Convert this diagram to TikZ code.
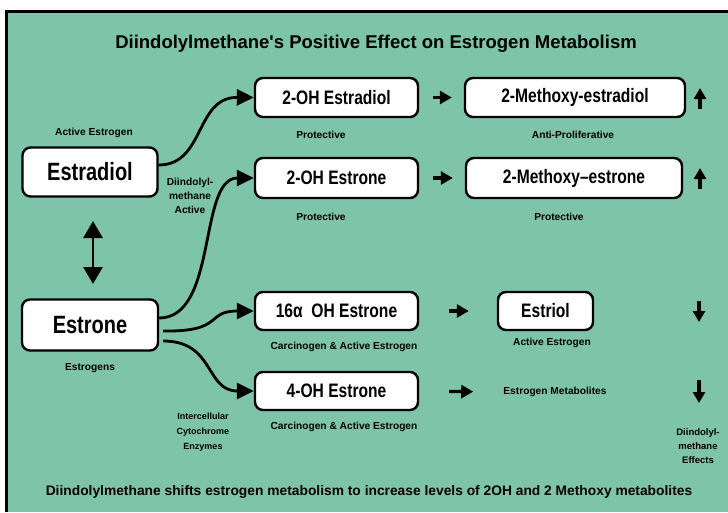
\documentclass[tikz,border=0pt]{standalone}
\usepackage{fontspec}
\setmainfont[FakeStretch=0.8]{Liberation Sans}
\newfontfamily\widefont{Liberation Sans}
\usetikzlibrary{arrows.meta}
\definecolor{seagreen}{RGB}{126,196,170}
\tikzset{
  chem/.style={draw, line width=2.4pt, rounded corners=8pt, fill=white, inner sep=0pt,
    minimum width=163pt, minimum height=39pt, font=\bfseries\fontsize{19.5}{19.5}\selectfont},
  parent/.style={chem, minimum width=135pt, minimum height=49pt, font=\bfseries\fontsize{25}{25}\selectfont},
  note/.style={font=\widefont\bfseries\fontsize{10.2}{14}\selectfont, align=center, inner sep=0pt},
  flow/.style={line width=2.8pt, -{Triangle[length=17pt,width=16pt]}},
  stub/.style={line width=3.2pt, -{Triangle[length=12pt,width=13pt]}},
  effect/.style={line width=3.5pt, -{Triangle[length=11pt,width=12pt]}}
}
\begin{document}
\begin{tikzpicture}[x=1pt,y=-1pt]
\useasboundingbox (0,0) rectangle (728,512);
\fill[white] (0,0) rectangle (728,512);
\fill[seagreen] (5,10) rectangle (728,512);
\draw[line width=3pt] (6.5,512) -- (6.5,11.5) -- (728,11.5);

\node[font=\widefont\bfseries\fontsize{18.5}{18.5}\selectfont] (title) at (376,44)
  {Diindolylmethane's Positive Effect on Estrogen Metabolism};

% parent estrogens
\node[parent] (estradiol) at (90,172) {Estradiol};
\node[parent, minimum width=136pt, minimum height=51pt] (estrone) at (90,325) {Estrone};
\node[note] (activeA) at (94,133) {Active Estrogen};
\node[note] (estrogens) at (90,368) {Estrogens};
\draw[line width=2.8pt, {Triangle[length=17pt,width=19pt]}-{Triangle[length=17pt,width=19pt]}]
  (estradiol) ++(3,49) coordinate (dblA) (dblA) -- ++(0,63) coordinate (dblB);

% metabolites
\node[chem] (ohEdiol) at (336.5,97.5) {2-OH Estradiol};
\node[chem, minimum width=220pt] (mxEdiol) at (575,97.5) {2-Methoxy-estradiol};
\node[chem, minimum height=40pt] (ohEone) at (336.5,178) {2-OH Estrone};
\node[chem, minimum width=216pt, minimum height=40pt] (mxEone) at (574,178) {2-Methoxy--estrone};
\node[chem, minimum height=38pt] (ohSixteen) at (336.5,311) {16α\ \ OH Estrone};
\node[chem, minimum width=95pt, minimum height=38pt] (estriol) at (545.5,311) {Estriol};
\node[chem, minimum height=38pt] (ohFour) at (336.5,391) {4-OH Estrone};
\node[note] (metab) at (555,392) {Estrogen Metabolites};

% notes under the boxes
\node[note] (protA) at (321,135) {Protective};
\node[note] (antiP) at (573,135) {Anti-Proliferative};
\node[note] (protB) at (321,217) {Protective};
\node[note] (protC) at (559,217) {Protective};
\node[note] (carcA) at (344,347) {Carcinogen \& Active Estrogen};
\node[note] (activeB) at (552,343) {Active Estrogen};
\node[note] (carcB) at (344,427) {Carcinogen \& Active Estrogen};
\node[note] (dimActive) at (190,196) {Diindolyl-\\methane\\Active};
\node[note, font=\widefont\bfseries\fontsize{9}{15}\selectfont] (enzymes) at (203,432) {Intercellular\\Cytochrome\\Enzymes};
\node[note, font=\widefont\bfseries\fontsize{9.5}{14}\selectfont] (dimEffects) at (698,446) {Diindolyl-\\methane\\Effects};
\node[font=\widefont\bfseries\fontsize{13.8}{13.8}\selectfont] (summary) at (369,492)
  {Diindolylmethane shifts estrogen metabolism to increase levels of 2OH and 2 Methoxy metabolites};

% curved pathways
\draw[flow] (estradiol.east) ++(0,-7) .. controls (205,165) and (195,97) .. (ohEdiol.west);
\draw[flow] (estrone.east) ++(0,-7) .. controls (218,318) and (198,178) .. (ohEone.west);
\draw[flow] (estrone.east) ++(4,6) .. controls (225,332) and (205,311) .. (ohSixteen.west);
\draw[flow] (estrone.east) ++(4,16) .. controls (215,341) and (205,391) .. (ohFour.west);

% short steps
\draw[stub, shorten <=14pt, shorten >=12pt] (ohEdiol) -- (mxEdiol);
\draw[stub, shorten <=14pt, shorten >=12pt] (ohEone) -- (mxEone);
\draw[stub, shorten <=30pt, shorten >=28pt] (ohSixteen) -- (estriol);
\draw[stub, shorten <=30pt, shorten >=30pt] (ohFour) -- (metab);

% up and down effects
\coordinate (upA) at (700,109);
\coordinate (upB) at (700,189);
\coordinate (dnA) at (699,301);
\coordinate (dnB) at (699,380);
\draw[effect] (upA) -- ++(0,-21);
\draw[effect] (upB) -- ++(0,-21);
\draw[effect] (dnA) -- ++(0,21);
\draw[effect] (dnB) -- ++(0,23);
\end{tikzpicture}
\end{document}
